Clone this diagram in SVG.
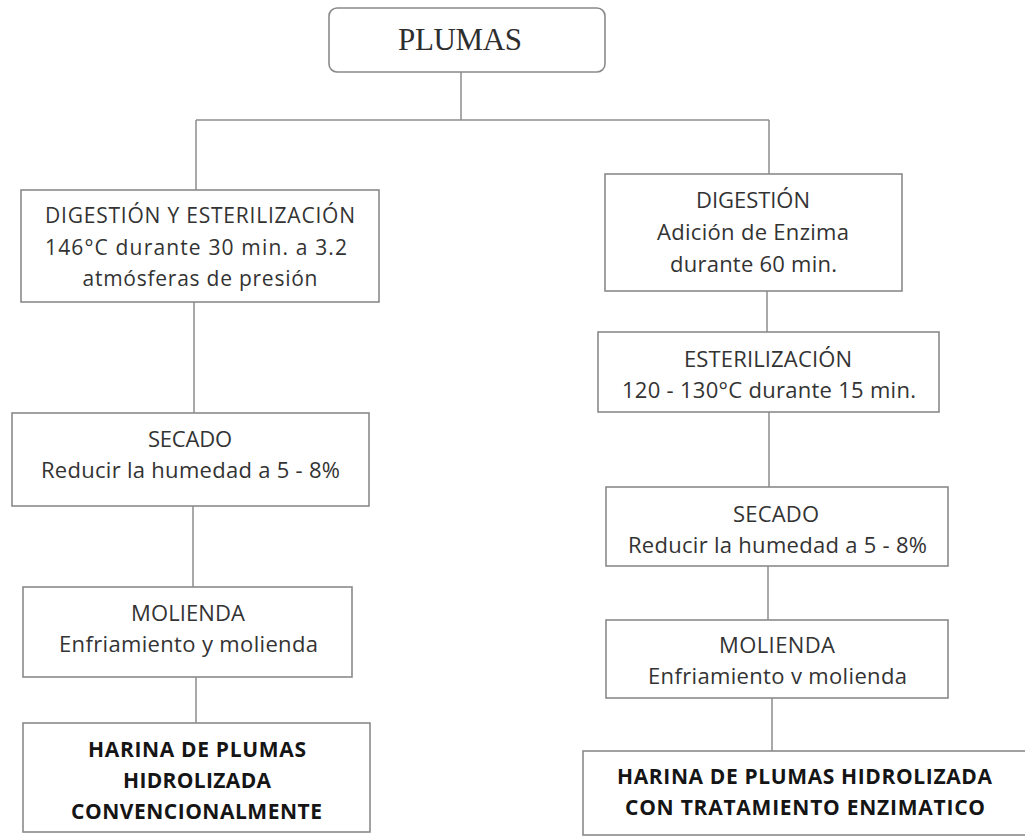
<svg xmlns="http://www.w3.org/2000/svg" width="1025" height="837" viewBox="0 0 1025 837">
<style>
.box{fill:#fff;stroke:#8a8a8a;stroke-width:1.6}
.ln{stroke:#8c8c8c;stroke-width:1.5;fill:none}
.t{font-family:"Open Sans","Liberation Sans",sans-serif;font-size:22px;fill:#333;text-anchor:middle}
.t.s{font-size:21px}
.b{font-family:"Open Sans","Liberation Sans",sans-serif;font-size:21px;font-weight:bold;fill:#151515;text-anchor:middle}
.serif{font-family:"Liberation Serif","Times New Roman",serif;font-size:31px;fill:#2e2e2e;text-anchor:middle}
</style>
<rect width="1025" height="837" fill="#fff"/>
<g id="connectors">
<line class="ln" x1="461" y1="72" x2="461" y2="120"/>
<line class="ln" x1="196" y1="120" x2="769" y2="120"/>
<line class="ln" x1="196" y1="120" x2="196" y2="190"/>
<line class="ln" x1="769" y1="120" x2="769" y2="174"/>
<line class="ln" x1="194" y1="302" x2="194" y2="413"/>
<line class="ln" x1="193" y1="506" x2="193" y2="587"/>
<line class="ln" x1="196" y1="677" x2="196" y2="723"/>
<line class="ln" x1="767" y1="291" x2="767" y2="332"/>
<line class="ln" x1="769" y1="412" x2="769" y2="487"/>
<line class="ln" x1="768" y1="566" x2="768" y2="620"/>
<line class="ln" x1="772" y1="698" x2="772" y2="751"/>
</g>
<g id="plumas">
<rect class="box" x="329" y="8" width="276" height="64" rx="8"/>
<text class="serif" x="460" y="50" textLength="124">PLUMAS</text>
</g>
<g id="digestion-esterilizacion">
<rect class="box" x="21" y="190" width="358" height="112"/>
<text class="t s" x="200" y="223" textLength="310">DIGESTIÓN Y ESTERILIZACIÓN</text>
<text class="t s" x="196" y="255" textLength="302">146°C durante 30 min. a 3.2</text>
<text class="t s" x="200" y="286" textLength="235">atmósferas de presión</text>
</g>
<g id="secado-left">
<rect class="box" x="12" y="413" width="357" height="93"/>
<text class="t" x="190" y="447" textLength="84">SECADO</text>
<text class="t" x="190.5" y="478" textLength="299">Reducir la humedad a 5 - 8%</text>
</g>
<g id="molienda-left">
<rect class="box" x="23" y="587" width="329" height="90"/>
<text class="t" x="188" y="621" textLength="114">MOLIENDA</text>
<text class="t" x="188.5" y="652" textLength="259">Enfriamiento y molienda</text>
</g>
<g id="harina-convencional">
<rect class="box" x="23" y="723" width="347" height="109"/>
<text class="b" x="197" y="757" textLength="218">HARINA DE PLUMAS</text>
<text class="b" x="197" y="788" textLength="148">HIDROLIZADA</text>
<text class="b" x="196.5" y="819" textLength="251">CONVENCIONALMENTE</text>
</g>
<g id="digestion">
<rect class="box" x="605" y="174" width="297" height="117"/>
<text class="t" x="753" y="208" textLength="114">DIGESTIÓN</text>
<text class="t" x="753" y="240" textLength="192">Adición de Enzima</text>
<text class="t" x="753.5" y="272" textLength="167">durante 60 min.</text>
</g>
<g id="esterilizacion">
<rect class="box" x="598" y="332" width="341" height="80"/>
<text class="t" x="768" y="367" textLength="168">ESTERILIZACIÓN</text>
<text class="t" x="769" y="398" textLength="294">120 - 130°C durante 15 min.</text>
</g>
<g id="secado-right">
<rect class="box" x="606" y="487" width="342" height="79"/>
<text class="t" x="776" y="522" textLength="86">SECADO</text>
<text class="t" x="777.5" y="553" textLength="299">Reducir la humedad a 5 - 8%</text>
</g>
<g id="molienda-right">
<rect class="box" x="606" y="620" width="342" height="78"/>
<text class="t" x="777" y="653" textLength="116">MOLIENDA</text>
<text class="t" x="777.5" y="684" textLength="259">Enfriamiento v molienda</text>
</g>
<g id="harina-enzimatica">
<rect class="box" x="583" y="751" width="450" height="84"/>
<text class="b" x="804.5" y="784" textLength="375">HARINA DE PLUMAS HIDROLIZADA</text>
<text class="b" x="805" y="815" textLength="360">CON TRATAMIENTO ENZIMATICO</text>
</g>
</svg>
